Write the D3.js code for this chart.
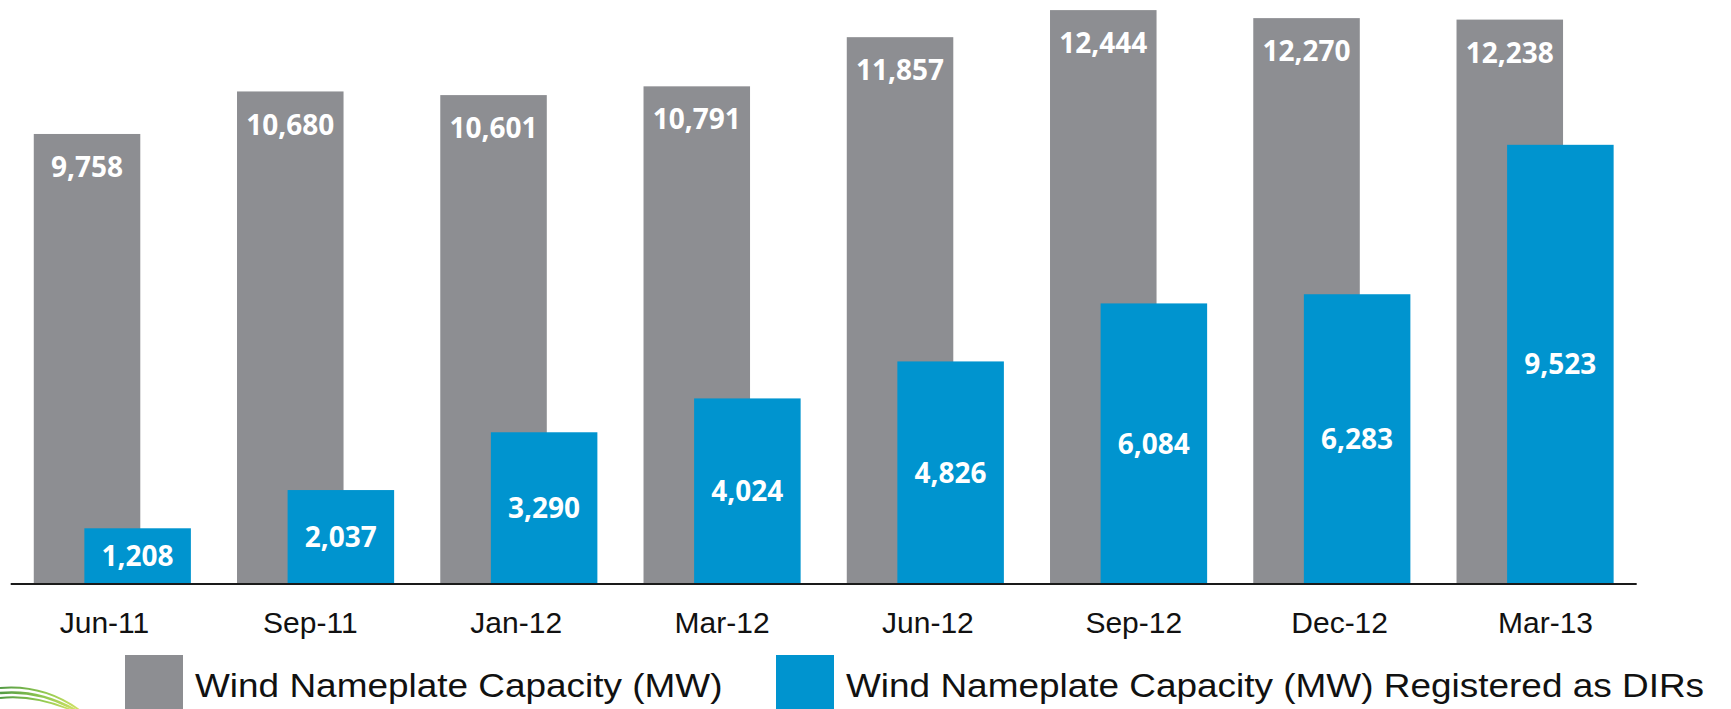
<!DOCTYPE html>
<html>
<head>
<meta charset="utf-8">
<script src="https://cdn.jsdelivr.net/npm/d3@7"></script>
<style>
  html, body { margin: 0; padding: 0; background: #ffffff; }
  svg { display: block; }
</style>
</head>
<body>
<svg id="chart" width="1731" height="709"></svg>
<script>
// Wind capacity by reporting month (MW)
const categories = ["Jun-11", "Sep-11", "Jan-12", "Mar-12", "Jun-12", "Sep-12", "Dec-12", "Mar-13"];
const nameplateMW = [9758, 10680, 10601, 10791, 11857, 12444, 12270, 12238];
const registeredDirMW = [1208, 2037, 3290, 4024, 4826, 6084, 6283, 9523];
const seriesNames = ["Wind Nameplate Capacity (MW)", "Wind Nameplate Capacity (MW) Registered as DIRs"];

const GRAY = "#8d8e92";
const BLUE = "#0094cf";

const svg = d3.select("#chart");
const baseY = 584;

const x = d3.scaleBand()
  .domain(categories)
  .range([10.7, 1636.7])
  .paddingInner(0.227)
  .paddingOuter(0.1135);

const y = d3.scaleLinear()
  .domain([0, 12663])
  .range([baseY, 0]);

const barW = x.bandwidth() * 0.678;
const blueOffset = x.bandwidth() - barW;

const fmt = d3.format(",");

const rows = categories.map((c, i) => ({ cat: c, total: nameplateMW[i], dir: registeredDirMW[i] }));

// Nameplate bars (back)
svg.append("g").selectAll("rect")
  .data(rows).join("rect")
  .attr("x", d => x(d.cat))
  .attr("y", d => y(d.total))
  .attr("width", barW)
  .attr("height", d => baseY - y(d.total))
  .attr("fill", GRAY);

// DIR-registered bars (front, overlapping)
svg.append("g").selectAll("rect")
  .data(rows).join("rect")
  .attr("x", d => x(d.cat) + blueOffset)
  .attr("y", d => y(d.dir))
  .attr("width", barW)
  .attr("height", d => baseY - y(d.dir))
  .attr("fill", BLUE);

const labelFont = "'Open Sans', 'Noto Sans', sans-serif";

// Value labels inside nameplate bars, near the top
svg.append("g").selectAll("text")
  .data(rows).join("text")
  .attr("x", d => x(d.cat) + barW / 2)
  .attr("y", d => y(d.total) + 33)
  .attr("dy", "0.36em")
  .attr("text-anchor", "middle")
  .attr("font-family", labelFont)
  .attr("font-weight", 700)
  .attr("font-size", 28)
  .attr("fill", "#ffffff")
  .text(d => fmt(d.total));

// Value labels centred in DIR bars
svg.append("g").selectAll("text")
  .data(rows).join("text")
  .attr("x", d => x(d.cat) + blueOffset + barW / 2)
  .attr("y", d => (y(d.dir) + baseY) / 2)
  .attr("dy", "0.36em")
  .attr("text-anchor", "middle")
  .attr("font-family", labelFont)
  .attr("font-weight", 700)
  .attr("font-size", 28)
  .attr("fill", "#ffffff")
  .text(d => fmt(d.dir));

// Category axis
const xLabels = d3.scalePoint().domain(categories).range([104, 1545]);
const axis = svg.append("g")
  .attr("transform", `translate(0,${baseY})`)
  .call(d3.axisBottom(xLabels).tickSize(0).tickPadding(0));
axis.select(".domain").remove();
axis.selectAll("text")
  .attr("y", 49)
  .attr("dy", 0)
  .attr("font-family", "'Liberation Sans', Arial, sans-serif")
  .attr("font-size", 30)
  .attr("fill", "#111111");

svg.append("line")
  .attr("x1", x.range()[0]).attr("x2", x.range()[1])
  .attr("y1", baseY).attr("y2", baseY)
  .attr("stroke", "#1a1a1a")
  .attr("stroke-width", 2);

// Legend
const legendItems = [
  { name: seriesNames[0], color: GRAY, x: 125 },
  { name: seriesNames[1], color: BLUE, x: 776 }
];
const leg = svg.append("g").selectAll("g")
  .data(legendItems).join("g")
  .attr("transform", d => `translate(${d.x},655)`);
leg.append("rect")
  .attr("width", 58).attr("height", 58)
  .attr("fill", d => d.color);
leg.append("text")
  .attr("transform", "translate(70,42) scale(1.12,1)")
  .attr("font-family", "'Liberation Sans', Arial, sans-serif")
  .attr("font-size", 33)
  .attr("fill", "#111111")
  .text(d => d.name);

// Corner emblem: green swoosh arcs
const defs = svg.append("defs");
const grad = defs.append("linearGradient").attr("id", "swoosh")
  .attr("x1", "0").attr("x2", "1").attr("y1", "0").attr("y2", "0");
grad.append("stop").attr("offset", "0%").attr("stop-color", "#3f8f2f");
grad.append("stop").attr("offset", "60%").attr("stop-color", "#8cc63f");
grad.append("stop").attr("offset", "100%").attr("stop-color", "#d4e157");
const swoosh = svg.append("g").attr("fill", "none").attr("stroke", "url(#swoosh)");
[0, 5, 10].forEach((o, i) => {
  swoosh.append("path")
    .attr("d", `M0,${688 + o} Q${45 - o},${684 + o} ${82 - o * 0.6},${712}`)
    .attr("stroke-width", i === 1 ? 2.5 : 1.8)
    .attr("opacity", 0.9);
});
</script>
</body>
</html>
